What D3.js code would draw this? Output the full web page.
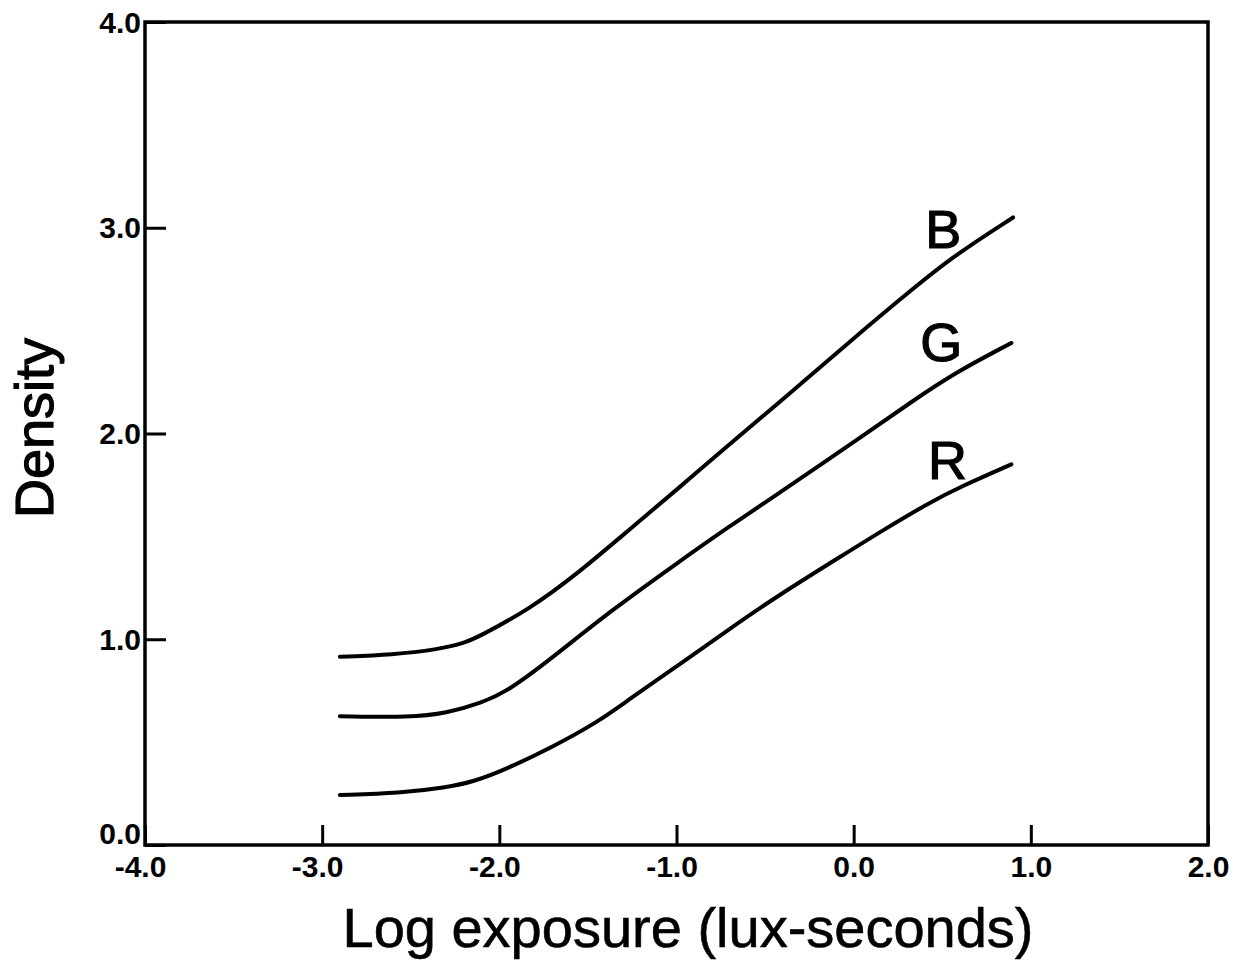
<!DOCTYPE html>
<html>
<head>
<meta charset="utf-8">
<script src="https://cdn.jsdelivr.net/npm/d3@7"></script>
<style>
  html, body { margin: 0; padding: 0; background: #fff; }
  svg text { font-family: "Liberation Sans", Arial, Helvetica, sans-serif; fill: #000; }
</style>
</head>
<body>
<div id="chart"></div>
<script>
// characteristic curves: [log exposure, density]
const blue = [
  [-2.9, 0.915], [-2.6, 0.925], [-2.35, 0.95], [-2.2, 0.98], [-2.11, 1.015],
  [-1.83, 1.146], [-1.55, 1.325], [-1.265, 1.534], [-0.98, 1.74], [-0.74, 1.92],
  [-0.42, 2.15], [0.05, 2.5], [0.26, 2.65], [0.54, 2.85], [0.9, 3.05]
];
const green = [
  [-2.9, 0.626], [-2.5, 0.62], [-2.3, 0.64], [-2.1, 0.69], [-1.95, 0.75],
  [-1.73, 0.89], [-1.36, 1.146], [-0.98, 1.38], [-0.7, 1.55], [-0.42, 1.71],
  [0.07, 2.0], [0.32, 2.15], [0.56, 2.29], [0.89, 2.44]
];
const red = [
  [-2.9, 0.243], [-2.56, 0.252], [-2.3, 0.28], [-2.15, 0.306], [-1.96, 0.369],
  [-1.7, 0.476], [-1.44, 0.6], [-1.28, 0.7], [-0.98, 0.88], [-0.7, 1.05],
  [-0.46, 1.194], [-0.04, 1.42], [0.165, 1.53], [0.43, 1.665], [0.6, 1.74], [0.89, 1.85]
];
const seriesNames = ["B", "G", "R"];
// where each letter sits, in data units (x centre, baseline)
const labelPos = [[0.506, 2.9], [0.495, 2.35], [0.53, 1.78]];

const xTicks = [-4, -3, -2, -1, 0, 1, 2];
const yTicks = [0, 1, 2, 3, 4];

const width = 1239;
const height = 964;

const x = d3.scaleLinear().domain([-4, 2]).range([145, 1208]);
const y = d3.scaleLinear().domain([0, 4]).range([845, 22]);

const svg = d3.select("#chart")
  .append("svg")
  .attr("width", width)
  .attr("height", height);

// frame
svg.append("rect")
  .attr("x", x(-4))
  .attr("y", y(4))
  .attr("width", x(2) - x(-4))
  .attr("height", y(0) - y(4))
  .attr("fill", "none")
  .attr("stroke", "#000")
  .attr("stroke-width", 3.5);

const xAxis = svg.append("g")
  .attr("transform", "translate(0," + y(0) + ")")
  .call(d3.axisBottom(x).tickValues(xTicks).tickSize(-20).tickSizeOuter(0));
xAxis.select(".domain").remove();
xAxis.selectAll(".tick line").attr("stroke", "#000").attr("stroke-width", 3);
xAxis.selectAll(".tick text")
  .attr("y", 11)
  .attr("dy", "0.71em")
  .attr("dx", (d) => (d < 0 ? -5 : 0))
  .style("font-size", "30px")
  .style("font-weight", "bold")
  .text((d) => d3.format(".1f")(d).replace("−", "-"));

const yAxis = svg.append("g")
  .attr("transform", "translate(" + x(-4) + ",0)")
  .call(d3.axisLeft(y).tickValues(yTicks).tickSize(-21).tickSizeOuter(0)
    .tickFormat(d3.format(".1f")));
yAxis.select(".domain").remove();
yAxis.selectAll(".tick line").attr("stroke", "#000").attr("stroke-width", 3);
yAxis.selectAll(".tick text")
  .attr("x", -4)
  .attr("dy", (d) => (d === 0 ? "-0.05em" : "0.34em"))
  .style("font-size", "30px")
  .style("font-weight", "bold");

// curves
const line = d3.line()
  .x((d) => x(d[0]))
  .y((d) => y(d[1]))
  .curve(d3.curveBasis);

svg.append("g")
  .selectAll("path")
  .data([blue, green, red])
  .enter()
  .append("path")
  .attr("d", line)
  .attr("fill", "none")
  .attr("stroke", "#000")
  .attr("stroke-width", 4)
  .attr("stroke-linecap", "round");

svg.append("g")
  .selectAll("text")
  .data(seriesNames)
  .enter()
  .append("text")
  .attr("x", (d, i) => x(labelPos[i][0]))
  .attr("y", (d, i) => y(labelPos[i][1]))
  .attr("text-anchor", "middle")
  .style("font-size", "54px")
  .style("stroke", "#000")
  .style("stroke-width", 1.2)
  .text((d) => d);

// axis titles
svg.append("text")
  .attr("x", 688)
  .attr("y", 947)
  .attr("text-anchor", "middle")
  .style("font-size", "56px")
  .style("stroke", "#000")
  .style("stroke-width", 0.6)
  .text("Log exposure (lux-seconds)");

svg.append("text")
  .attr("transform", "translate(53,428) rotate(-90)")
  .attr("text-anchor", "middle")
  .style("font-size", "54px")
  .style("stroke", "#000")
  .style("stroke-width", 1.2)
  .text("Density");
</script>
</body>
</html>
